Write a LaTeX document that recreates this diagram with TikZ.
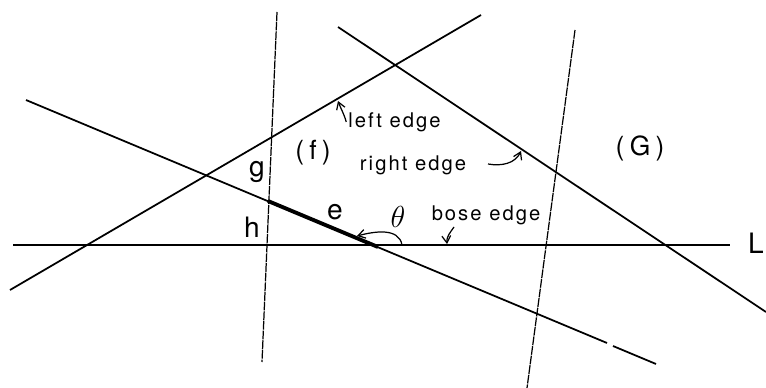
\documentclass[tikz,border=0pt]{standalone}
\usepackage{fontspec}
\setmainfont{TeX Gyre Heros}
\usetikzlibrary{arrows.meta}

\begin{document}
\begin{tikzpicture}[x=0.02cm,y=-0.02cm,
    lin/.style={line width=1pt},
    cutln/.style={line width=0.7pt,dash pattern=on 5pt off 0.5pt},
    lbl/.style={inner sep=0pt,font=\fontsize{11.5}{13}\selectfont\addfontfeature{LetterSpace=10}},
    mid/.style={inner sep=0pt,font=\fontsize{15}{17}\selectfont\addfontfeature{LetterSpace=20}},
    bigl/.style={inner sep=0pt,font=\fontsize{16}{18}\selectfont},
    arr/.style={-{Straight Barb[length=4pt,width=5pt]},line width=0.7pt}]
  \useasboundingbox (0,0) rectangle (766,388);
  % base line L
  \coordinate (l0) at (13,245); \coordinate (l1) at (730,245);
  \draw[lin] (l0) -- (l1);
  \node[bigl] (L) at (756,243) {L};
  % the two cutting lines
  \coordinate (a0) at (277,12); \coordinate (a1) at (262,362);
  \coordinate (b0) at (575,30); \coordinate (b1) at (527,388);
  \draw[cutln] (a0) -- (a1);
  \draw[cutln] (b0) -- (b1);
  % left and right edges
  \coordinate (p0) at (10,290); \coordinate (p1) at (481,15);
  \coordinate (q0) at (338,27); \coordinate (q1) at (766,312);
  \draw[lin] (p0) -- (p1);
  \draw[lin] (q0) -- (q1);
  % edge e, bold from the cut down to L
  \coordinate (e0) at (26,100); \coordinate (eA) at (268,201);
  \coordinate (eL) at (378,247); \coordinate (g0) at (607,343);
  \coordinate (g1) at (613,346); \coordinate (e1) at (656,364);
  \draw[lin] (e0) -- (g0);
  \draw[lin] (g1) -- (e1);
  \draw[line width=2.2pt] (eA) -- (eL);
  % regions and letters
  \node[mid] (f) at (313,153) {(f)};
  \node[mid] (G) at (640,148) {(G)};
  \node[bigl] (gl) at (257,172) {g};
  \node[bigl] (hl) at (252,227) {h};
  \node[bigl] (el) at (335,212) {e};
  \node[bigl] (th) at (398,217) {$\theta$};
  % edge names with their pointers
  \node[lbl,anchor=west] (lft) at (348,122) {left edge};
  \node[lbl] (rgt) at (413,165) {right edge};
  \node[lbl] (bse) at (486,215) {bose edge};
  \coordinate (lftip) at (338,101);
  \coordinate (rtl) at (488,164); \coordinate (rtip) at (521,151);
  \coordinate (bst) at (454,227); \coordinate (bsp) at (447,244);
  \coordinate (thf) at (402,245); \coordinate (tht) at (357,236);
  \draw[arr] ([xshift=-1pt]lft.west) to[out=105,in=-70] (lftip);
  \draw[arr] (rtl) to[out=-10,in=-115] (rtip);
  \draw[arr] (bst) to[out=-125,in=95] (bsp);
  \draw[arr] (thf) to[out=100,in=15] (tht);
\end{tikzpicture}
\end{document}
